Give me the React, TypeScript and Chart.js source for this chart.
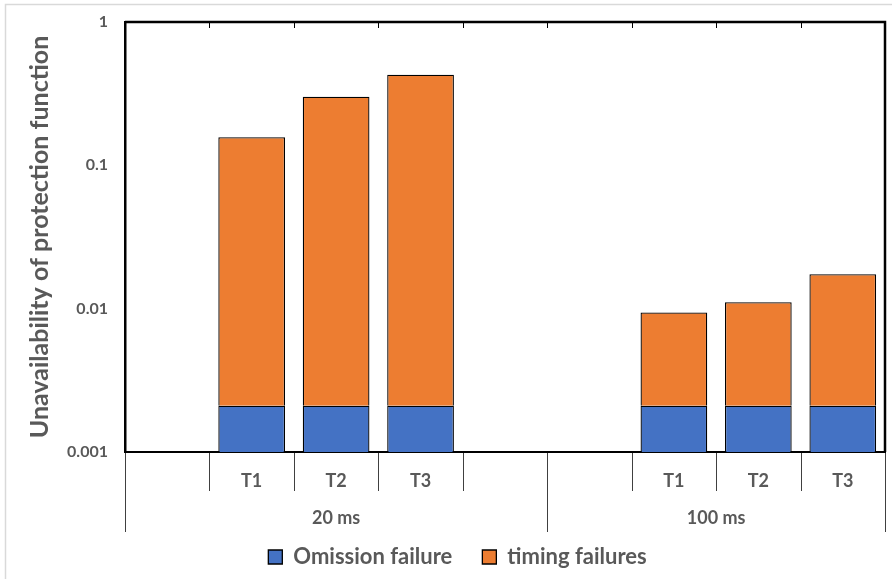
import React, { useEffect, useRef } from "react";
import { Chart, registerables } from "chart.js";

Chart.register(...registerables);

const categories = ["", "T1", "T2", "T3", "", "", "T1", "T2", "T3"];
const groups = ["20 ms", "100 ms"];
const groupSizes = [5, 4];
const omission = [null, 0.0021, 0.0021, 0.0021, null, null, 0.0021, 0.0021, 0.0021];
const timing = [null, 0.155, 0.299, 0.426, null, null, 0.0073, 0.009, 0.0153];
const yTicks = [0.001, 0.01, 0.1, 1];
const yTickLabels = ["0.001", "0.01", "0.1", "1"];

const GREY = "#595959";
const FONT = "Lato, 'Open Sans', sans-serif";

const decorPlugin = {
  id: "decor",
  afterLayout(chart: any) {
    if (chart.legend) {
      chart.legend.left += 15;
      chart.legend.right += 15;
    }
  },
  beforeDraw(chart: any) {
    const ctx = chart.ctx;
    ctx.save();
    ctx.strokeStyle = "#d9d9d9";
    ctx.lineWidth = 1.5;
    ctx.beginPath();
    ctx.moveTo(5.5, 579);
    ctx.lineTo(5.5, 4.5);
    ctx.lineTo(892, 4.5);
    ctx.stroke();
    ctx.restore();
  },
  afterDraw(chart: any) {
    const ctx = chart.ctx;
    const area = chart.chartArea;
    const xs = chart.scales.x;
    const n = categories.length;
    const half = (xs.getPixelForValue(1) - xs.getPixelForValue(0)) / 2;
    const boundary = (i: number) => xs.getPixelForValue(i) - half;
    const groupStarts: number[] = [0];
    groupSizes.forEach((s, k) => groupStarts.push(groupStarts[k] + s));
    ctx.save();
    ctx.strokeStyle = "#000";
    ctx.lineWidth = 2.5;
    ctx.beginPath();
    ctx.moveTo(area.left, area.top);
    ctx.lineTo(area.right, area.top);
    ctx.lineTo(area.right, area.bottom);
    ctx.stroke();
    ctx.lineWidth = 1;
    ctx.beginPath();
    for (let i = 1; i < n; i++) {
      const x = Math.round(boundary(i)) + 0.5;
      ctx.moveTo(x, area.top);
      ctx.lineTo(x, area.top + 6);
    }
    ctx.stroke();
    ctx.strokeStyle = "#404040";
    ctx.lineWidth = 1;
    ctx.beginPath();
    for (let i = 0; i <= n; i++) {
      const x = Math.round(boundary(i)) + 0.5;
      const isGroup = groupStarts.includes(i);
      ctx.moveTo(x, area.bottom + 1);
      ctx.lineTo(x, isGroup ? area.bottom + 80 : area.bottom + 39);
    }
    ctx.stroke();
    ctx.fillStyle = GREY;
    ctx.font = `bold 18px ${FONT}`;
    ctx.textAlign = "center";
    ctx.textBaseline = "middle";
    groups.forEach((g, k) => {
      const x0 = boundary(groupStarts[k]);
      const x1 = boundary(groupStarts[k + 1]);
      ctx.fillText(g, (x0 + x1) / 2, area.bottom + 66);
    });
    ctx.restore();
  },
};

export default function App() {
  const ref = useRef<HTMLCanvasElement | null>(null);
  useEffect(() => {
    if (!ref.current) return;
    const chart = new Chart(ref.current, {
      type: "bar",
      data: {
        labels: categories,
        datasets: [
          {
            label: "Omission failure",
            data: omission as any,
            backgroundColor: "#4472C4",
            borderColor: "#000",
            borderWidth: 1.3,
            barPercentage: 0.79,
            categoryPercentage: 1,
          },
          {
            label: "timing failures",
            data: timing as any,
            backgroundColor: "#ED7D31",
            borderColor: "#000",
            borderWidth: 1.3,
            barPercentage: 0.79,
            categoryPercentage: 1,
          },
        ],
      },
      options: {
        animation: false,
        responsive: false,
        layout: { padding: { top: 22, right: 7, left: 0, bottom: 1 } },
        plugins: {
          tooltip: { enabled: false },
          legend: {
            position: "bottom",
            labels: {
              boxWidth: 14,
              boxHeight: 14,
              padding: 30,
              color: GREY,
              font: { family: FONT, size: 22, weight: "bold" },
            },
          },
        },
        scales: {
          x: {
            stacked: true,
            grid: { display: false },
            border: { display: true, color: "#000", width: 2 },
            ticks: {
              color: GREY,
              padding: 10,
              maxRotation: 0,
              autoSkip: false,
              font: { family: FONT, size: 18, weight: "bold" },
            },
            afterFit(scale: any) {
              scale.height = 64;
            },
          },
          y: {
            type: "logarithmic",
            stacked: true,
            min: 0.001,
            max: 1,
            grid: { display: false },
            border: { display: true, color: "#000", width: 2.5 },
            afterBuildTicks(scale: any) {
              scale.ticks = yTicks.map((v) => ({ value: v }));
            },
            ticks: {
              color: GREY,
              padding: 9,
              font: { family: FONT, size: 16, weight: "bold" },
              callback: (v: any) => {
                const i = yTicks.indexOf(Number(v));
                return i >= 0 ? yTickLabels[i] : "";
              },
            },
            title: {
              display: true,
              text: "Unavailability of protection function",
              color: GREY,
              font: { family: FONT, size: 25, weight: "bold" },
              padding: { top: 25, bottom: 0 },
            },
            afterFit(scale: any) {
              scale.width = 125;
            },
          },
        },
      },
      plugins: [decorPlugin],
    });
    return () => chart.destroy();
  }, []);
  return (
    <div style={{ position: "fixed", left: 0, top: 0, width: 892, height: 579, background: "#fff" }}>
      <canvas ref={ref} width={892} height={579} />
    </div>
  );
}
